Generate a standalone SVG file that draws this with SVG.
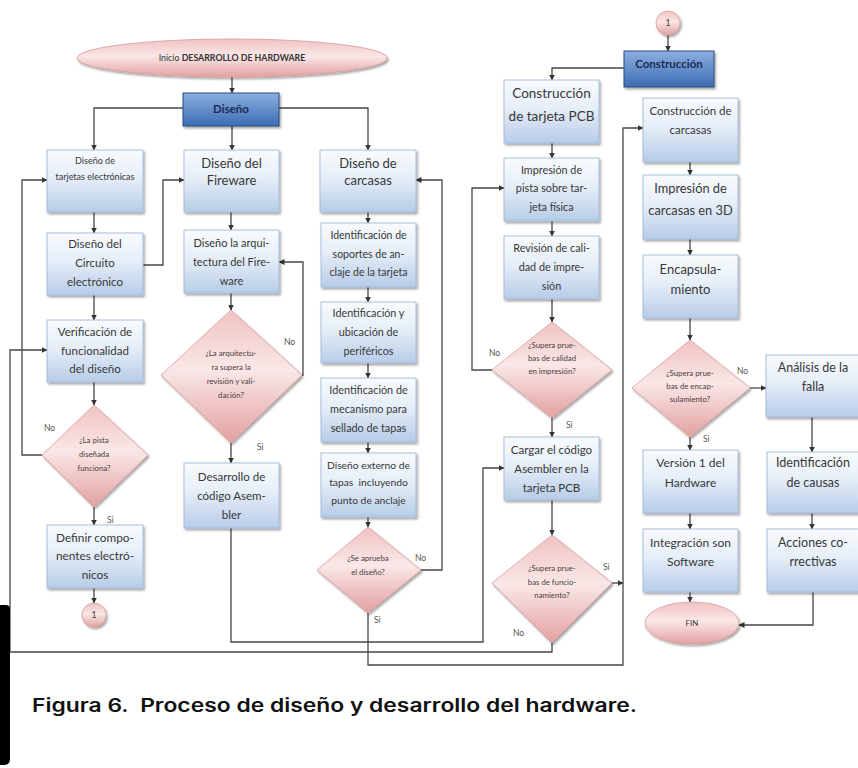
<svg xmlns="http://www.w3.org/2000/svg" width="858" height="768" viewBox="0 0 858 768">
<defs>
<linearGradient id="gBox" x1="0" y1="0" x2="0" y2="1">
<stop offset="0" stop-color="#f8fbfe"/><stop offset="0.45" stop-color="#e6eef8"/><stop offset="1" stop-color="#b7cce8"/>
</linearGradient>
<linearGradient id="gHead" x1="0" y1="0" x2="0" y2="1">
<stop offset="0" stop-color="#8cb0e0"/><stop offset="1" stop-color="#3b6cb4"/>
</linearGradient>
<linearGradient id="gPink" x1="0" y1="0" x2="0" y2="1">
<stop offset="0" stop-color="#f0c2c2"/><stop offset="0.45" stop-color="#fae7e7"/><stop offset="1" stop-color="#e3a0a1"/>
</linearGradient>
<filter id="sh" x="-10%" y="-10%" width="130%" height="130%">
<feDropShadow dx="1.5" dy="2" stdDeviation="1.2" flood-color="#000" flood-opacity="0.35"/>
</filter>
<marker id="ar" markerUnits="userSpaceOnUse" markerWidth="6" markerHeight="6" refX="5.5" refY="3" orient="auto">
<path d="M0,0 L6,3 L0,6 z" fill="#333"/>
</marker>
<style>
.box{fill:url(#gBox);stroke:#a0b9d9;stroke-width:0.9;filter:url(#sh)}
.head{fill:url(#gHead);stroke:#2a4a7a;stroke-width:1;filter:url(#sh)}
.pink{fill:url(#gPink);stroke:#d99a9b;stroke-width:0.8;filter:url(#sh)}
.t{font-family:Lato,"Open Sans",sans-serif;fill:#383838;text-anchor:middle}
.ht{font-family:Lato,"Open Sans",sans-serif;fill:#1c2c52;font-weight:bold;text-anchor:middle}
.d{font-family:Lato,"Open Sans",sans-serif;fill:#4a4040;text-anchor:middle;font-size:7.8px}
.lb{font-family:Lato,"Open Sans",sans-serif;fill:#555;font-size:8.5px}
.c{fill:none;stroke:#474747;stroke-width:1.3}
.ca{fill:none;stroke:#474747;stroke-width:1.3;marker-end:url(#ar)}
</style>
</defs>
<rect width="858" height="768" fill="#ffffff"/>

<g id="connectors">
<path class="ca" d="M232,77 V93"/>
<path class="ca" d="M183,108 H94 V150"/>
<path class="ca" d="M232,126 V150"/>
<path class="ca" d="M279,108 H368 V150"/>
<path class="ca" d="M94,212 V233"/>
<path class="ca" d="M143,265 H163 V180 H184"/>
<path class="ca" d="M94,295 V320"/>
<path class="ca" d="M94,382 V405"/>
<path class="ca" d="M42,455 H22 V180 H47"/>
<path class="ca" d="M94,507 V525"/>
<path class="ca" d="M94,588 V603"/>
<path class="ca" d="M231,212 V230"/>
<path class="ca" d="M231,293 V310"/>
<path class="ca" d="M302,375 H303 V262 H279"/>
<path class="ca" d="M231,443 V463"/>
<path class="ca" d="M231,528 V642 H483 V468 H504"/>
<path class="ca" d="M368,212 V223"/>
<path class="ca" d="M368,287 V302"/>
<path class="ca" d="M368,363 V378"/>
<path class="ca" d="M368,442 V453"/>
<path class="ca" d="M368,517 V527"/>
<path class="ca" d="M421,570 H442 V180 H416"/>
<path class="ca" d="M368,613 V665 H623 V128 H643"/>
<path class="ca" d="M612,583 H623"/>
<path class="ca" d="M552,643 V652 H10 V350 H47"/>
<path class="ca" d="M668,35 V51"/>
<path class="ca" d="M624,68 H552 V80"/>
<path class="ca" d="M552,143 V158"/>
<path class="ca" d="M552,221 V236"/>
<path class="ca" d="M552,299 V322"/>
<path class="ca" d="M492,370 H472 V188 H504"/>
<path class="ca" d="M552,418 V437"/>
<path class="ca" d="M552,500 V535"/>
<path class="ca" d="M690,162 V175"/>
<path class="ca" d="M690,239 V255"/>
<path class="ca" d="M690,318 V340"/>
<path class="ca" d="M750,388 H766"/>
<path class="ca" d="M690,437 V450"/>
<path class="ca" d="M690,513 V529"/>
<path class="ca" d="M690,592 V602"/>
<path class="ca" d="M812,417 V452"/>
<path class="ca" d="M812,513 V529"/>
<path class="ca" d="M813,592 V625 H739"/>
</g>

<g id="labels">
<text class="lb" x="44" y="431">No</text>
<text class="lb" x="107" y="523">Si</text>
<text class="lb" x="284" y="345">No</text>
<text class="lb" x="257" y="450">Si</text>
<text class="lb" x="415" y="561">No</text>
<text class="lb" x="374" y="623">Si</text>
<text class="lb" x="489" y="356">No</text>
<text class="lb" x="566" y="428">Si</text>
<text class="lb" x="603" y="570">Si</text>
<text class="lb" x="513" y="636">No</text>
<text class="lb" x="737" y="374">No</text>
<text class="lb" x="703" y="442">Si</text>
</g>

<g id="inicio">
<ellipse class="pink" cx="232" cy="58" rx="155" ry="19"/>
<text class="t" x="232" y="61" style="font-size:8.8px;fill:#333">Inicio <tspan font-weight="bold">DESARROLLO DE HARDWARE</tspan></text>
</g>
<g id="diseno">
<rect class="head" x="183" y="93" width="96" height="33"/>
<text class="ht" x="231" y="113" style="font-size:11.5px">Diseño</text>
</g>

<g id="tarjetas">
<rect class="box" x="47" y="150" width="96" height="62"/>
<text class="t" style="font-size:9px"><tspan x="95" y="164">Diseño de</tspan><tspan x="95" y="180">tarjetas electrónicas</tspan></text>
</g>
<g id="circuito">
<rect class="box" x="47" y="233" width="96" height="62"/>
<text class="t" style="font-size:11.5px"><tspan x="95" y="248">Diseño del</tspan><tspan x="95" y="267">Circuito</tspan><tspan x="95" y="286">electrónico</tspan></text>
</g>
<g id="verificacion">
<rect class="box" x="47" y="320" width="96" height="62"/>
<text class="t" style="font-size:11.5px"><tspan x="95" y="336">Verificación de</tspan><tspan x="95" y="355">funcionalidad</tspan><tspan x="95" y="373">del diseño</tspan></text>
</g>
<g id="pista">
<polygon class="pink" points="94,405 148,455 94,507 42,455"/>
<text class="d"><tspan x="94" y="443">¿La pista</tspan><tspan x="94" y="457">diseñada</tspan><tspan x="94" y="471">funciona?</tspan></text>
</g>
<g id="definir">
<rect class="box" x="47" y="525" width="96" height="63"/>
<text class="t" style="font-size:11.8px"><tspan x="95" y="542">Definir compo-</tspan><tspan x="95" y="560">nentes electró-</tspan><tspan x="95" y="579">nicos</tspan></text>
</g>
<g id="uno-a">
<circle class="pink" cx="94" cy="615" r="12"/>
<text class="t" x="94" y="618" style="font-size:8.5px">1</text>
</g>

<g id="fireware">
<rect class="box" x="184" y="150" width="95" height="62"/>
<text class="t" style="font-size:13px"><tspan x="231.5" y="168">Diseño del</tspan><tspan x="231.5" y="185">Fireware</tspan></text>
</g>
<g id="arquitectura">
<rect class="box" x="184" y="230" width="95" height="63"/>
<text class="t" style="font-size:11px"><tspan x="231.5" y="247">Diseño la arqui-</tspan><tspan x="231.5" y="266">tectura del Fire-</tspan><tspan x="231.5" y="285">ware</tspan></text>
</g>
<g id="arq-dec">
<polygon class="pink" points="231,310 302,375 231,443 161,375"/>
<text class="d"><tspan x="231" y="356">¿La arquitectu-</tspan><tspan x="231" y="370">ra supera la</tspan><tspan x="231" y="384">revisión y vali-</tspan><tspan x="231" y="398">dación?</tspan></text>
</g>
<g id="desarrollo">
<rect class="box" x="184" y="463" width="95" height="65"/>
<text class="t" style="font-size:11.5px"><tspan x="231.5" y="481">Desarrollo de</tspan><tspan x="231.5" y="500">código Asem-</tspan><tspan x="231.5" y="519">bler</tspan></text>
</g>

<g id="carcasas">
<rect class="box" x="320" y="150" width="96" height="62"/>
<text class="t" style="font-size:13px"><tspan x="368" y="168">Diseño de</tspan><tspan x="368" y="185">carcasas</tspan></text>
</g>
<g id="soportes">
<rect class="box" x="321" y="223" width="95" height="64"/>
<text class="t" style="font-size:10.5px"><tspan x="368.5" y="239">Identificación de</tspan><tspan x="368.5" y="258">soportes de an-</tspan><tspan x="368.5" y="276">claje de la tarjeta</tspan></text>
</g>
<g id="ubicacion">
<rect class="box" x="321" y="302" width="95" height="61"/>
<text class="t" style="font-size:10.8px"><tspan x="368.5" y="317">Identificación y</tspan><tspan x="368.5" y="336">ubicación de</tspan><tspan x="368.5" y="355">periféricos</tspan></text>
</g>
<g id="mecanismo">
<rect class="box" x="321" y="378" width="95" height="64"/>
<text class="t" style="font-size:10.8px"><tspan x="368.5" y="394">Identificación de</tspan><tspan x="368.5" y="413">mecanismo para</tspan><tspan x="368.5" y="432">sellado de tapas</tspan></text>
</g>
<g id="externo">
<rect class="box" x="321" y="453" width="95" height="64"/>
<text class="t" style="font-size:10.3px"><tspan x="368.5" y="469">Diseño externo de</tspan><tspan x="368.5" y="486">tapas&#160; incluyendo</tspan><tspan x="368.5" y="504">punto de anclaje</tspan></text>
</g>
<g id="aprueba">
<polygon class="pink" points="368,527 421,570 368,613 317,570"/>
<text class="d"><tspan x="368" y="561">¿Se aprueba</tspan><tspan x="368" y="575">el diseño?</tspan></text>
</g>

<g id="uno-b">
<circle class="pink" cx="668" cy="23" r="12"/>
<text class="t" x="668" y="26" style="font-size:8.5px">1</text>
</g>
<g id="construccion">
<rect class="head" x="624" y="51" width="90" height="36"/>
<text class="ht" x="669" y="68" style="font-size:11.5px">Construcción</text>
</g>
<g id="pcb">
<rect class="box" x="504" y="80" width="95" height="63"/>
<text class="t" style="font-size:13.5px"><tspan x="551.5" y="98">Construcción</tspan><tspan x="551.5" y="121">de tarjeta PCB</tspan></text>
</g>
<g id="impresion-pista">
<rect class="box" x="504" y="158" width="95" height="63"/>
<text class="t" style="font-size:10.8px"><tspan x="551.5" y="174">Impresión de</tspan><tspan x="551.5" y="192">pista sobre tar-</tspan><tspan x="551.5" y="211">jeta física</tspan></text>
</g>
<g id="revision">
<rect class="box" x="504" y="236" width="95" height="63"/>
<text class="t" style="font-size:10.8px"><tspan x="551.5" y="252">Revisión de cali-</tspan><tspan x="551.5" y="271">dad de impre-</tspan><tspan x="551.5" y="290">sión</tspan></text>
</g>
<g id="calidad">
<polygon class="pink" points="552,322 612,370 552,418 492,370"/>
<text class="d"><tspan x="552" y="348">¿Supera prue-</tspan><tspan x="552" y="361">bas de calidad</tspan><tspan x="552" y="374">en impresión?</tspan></text>
</g>
<g id="cargar">
<rect class="box" x="504" y="437" width="95" height="63"/>
<text class="t" style="font-size:11.5px"><tspan x="551.5" y="454">Cargar el código</tspan><tspan x="551.5" y="473">Asembler en la</tspan><tspan x="551.5" y="492">tarjeta PCB</tspan></text>
</g>
<g id="funcionamiento">
<polygon class="pink" points="552,535 612,583 552,643 492,583"/>
<text class="d"><tspan x="552" y="571">¿Supera prue-</tspan><tspan x="552" y="585">bas de funcio-</tspan><tspan x="552" y="598">namiento?</tspan></text>
</g>

<g id="constr-carcasas">
<rect class="box" x="643" y="98" width="95" height="64"/>
<text class="t" style="font-size:11.5px"><tspan x="690.5" y="115">Construcción de</tspan><tspan x="690.5" y="134">carcasas</tspan></text>
</g>
<g id="impresion-3d">
<rect class="box" x="643" y="175" width="95" height="64"/>
<text class="t" style="font-size:12.8px"><tspan x="690.5" y="193">Impresión de</tspan><tspan x="690.5" y="215">carcasas en 3D</tspan></text>
</g>
<g id="encapsulamiento">
<rect class="box" x="643" y="255" width="95" height="63"/>
<text class="t" style="font-size:13px"><tspan x="690.5" y="274">Encapsula-</tspan><tspan x="690.5" y="294">miento</tspan></text>
</g>
<g id="encap-dec">
<polygon class="pink" points="690,340 750,388 690,437 632,388"/>
<text class="d"><tspan x="690" y="376">¿Supera prue-</tspan><tspan x="690" y="389">bas de encap-</tspan><tspan x="690" y="402">sulamiento?</tspan></text>
</g>
<g id="version">
<rect class="box" x="643" y="450" width="95" height="63"/>
<text class="t" style="font-size:12px"><tspan x="690.5" y="467">Versión 1 del</tspan><tspan x="690.5" y="487">Hardware</tspan></text>
</g>
<g id="integracion">
<rect class="box" x="643" y="529" width="95" height="63"/>
<text class="t" style="font-size:12px"><tspan x="690.5" y="547">Integración son</tspan><tspan x="690.5" y="566">Software</tspan></text>
</g>
<g id="fin">
<ellipse class="pink" cx="692" cy="623" rx="47" ry="21"/>
<text class="t" x="692" y="626" style="font-size:8px">FIN</text>
</g>

<g id="analisis">
<rect class="box" x="766" y="355" width="100" height="62"/>
<text class="t" style="font-size:12.5px"><tspan x="813" y="372">Análisis de la</tspan><tspan x="813" y="391">falla</tspan></text>
</g>
<g id="causas">
<rect class="box" x="767" y="452" width="100" height="61"/>
<text class="t" style="font-size:12.5px"><tspan x="813" y="467">Identificación</tspan><tspan x="813" y="487">de causas</tspan></text>
</g>
<g id="acciones">
<rect class="box" x="767" y="529" width="100" height="63"/>
<text class="t" style="font-size:12.5px"><tspan x="813" y="547">Acciones co-</tspan><tspan x="813" y="566">rrectivas</tspan></text>
</g>

<path d="M0,605 H6 Q10,605 10,609 V759 Q10,765 4,765 H0 Z" fill="#000"/>
<text x="32" y="712" font-family="Inter,Lato,sans-serif" font-weight="600" font-size="18.5" fill="#111" textLength="605" lengthAdjust="spacingAndGlyphs">Figura 6.&#160; Proceso de diseño y desarrollo del hardware.</text>
</svg>
